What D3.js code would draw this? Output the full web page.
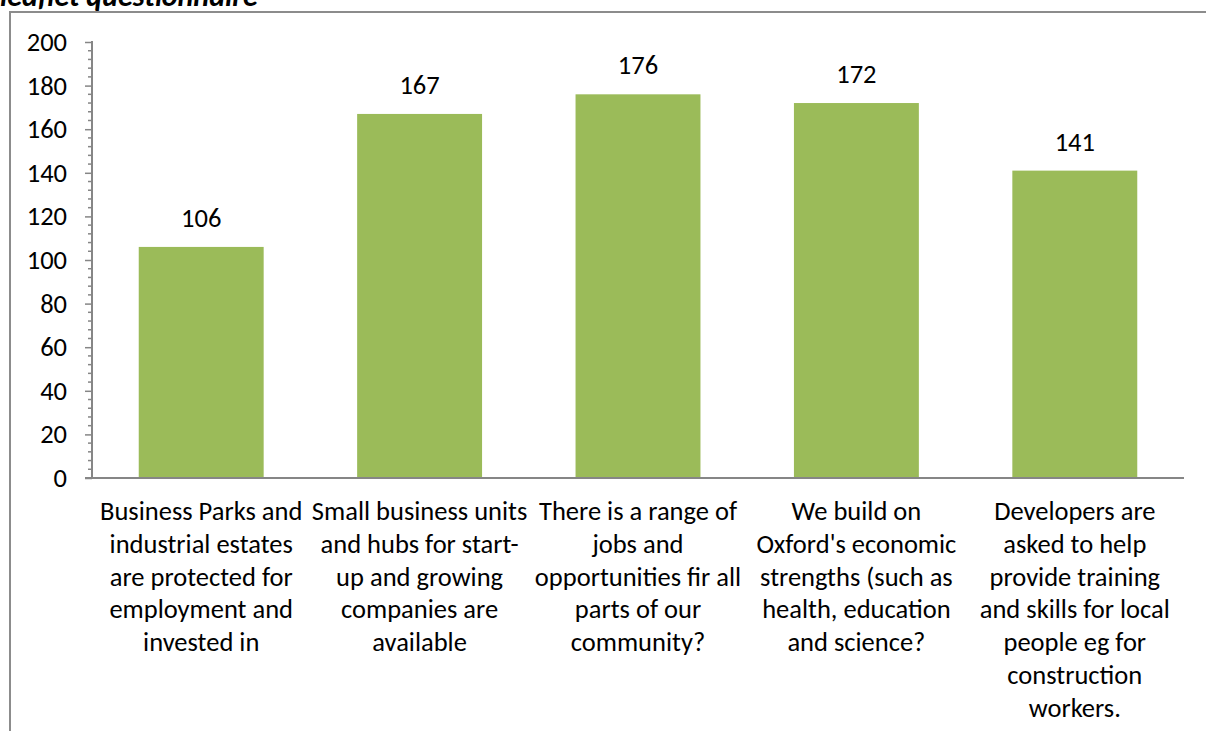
<!DOCTYPE html>
<html><head><meta charset="utf-8">
<script src="https://cdn.jsdelivr.net/npm/d3@7"></script>
<style>body{margin:0;background:#fff}svg{display:block}text{font-family:Carlito,Calibri,"Open Sans",sans-serif}</style>
</head><body>
<svg id="c" width="1206" height="731"></svg>
<script>
const categories = [
  ["Business Parks and","industrial estates","are protected for","employment and","invested in"],
  ["Small business units","and hubs for start-","up and growing","companies are","available"],
  ["There is a range of","jobs and","opportunities fir all","parts of our","community?"],
  ["We build on","Oxford's economic","strengths (such as","health, education","and science?"],
  ["Developers are","asked to help","provide training","and skills for local","people eg for","construction","workers."]
];
const values = [106, 167, 176, 172, 141];
const yTicks = [0,20,40,60,80,100,120,140,160,180,200];
const titleText = "leaflet questionnaire";

const svg = d3.select("#c");
const fs = 26.5;
const x = d3.scaleBand().domain(d3.range(values.length)).range([92,1184]).paddingInner(0.428).paddingOuter(0.214);
const y = d3.scaleLinear().domain([0,200]).range([478,42]);

svg.append("text").attr("x",0).attr("y",6).attr("font-size",30).attr("font-weight","bold").attr("font-style","italic").text(titleText);

// frame
svg.append("path").attr("d","M10,740 V12 H1220").attr("fill","none").attr("stroke","#8c8c8c").attr("stroke-width",2);

svg.selectAll("rect.bar").data(values).join("rect").attr("class","bar")
  .attr("x",(d,i)=>x(i)).attr("width",x.bandwidth())
  .attr("y",d=>y(d)).attr("height",d=>y(0)-y(d)).attr("fill","#9bbb59");

svg.selectAll("text.val").data(values).join("text").attr("class","val")
  .attr("x",(d,i)=>x(i)+x.bandwidth()/2).attr("y",d=>y(d)-20)
  .attr("text-anchor","middle").attr("font-size",fs).attr("fill","#000").text(d=>d);

// y axis
const ax = svg.append("g").attr("transform","translate(92,0)");
ax.call(d3.axisLeft(y).tickValues(yTicks).tickSize(7).tickPadding(18).tickFormat(d3.format("d")));
ax.select(".domain").remove();
ax.selectAll(".tick line").attr("stroke","#868686").attr("stroke-width",1.5);
ax.selectAll(".tick text").attr("font-size",fs).attr("fill","#000").attr("font-family","Carlito,Calibri,'Open Sans',sans-serif");
const minor = d3.range(0,201,4).filter(v=>v%20!==0);
ax.selectAll("line.minor").data(minor).join("line").attr("class","minor")
  .attr("x1",-4).attr("x2",0).attr("y1",d=>y(d)).attr("y2",d=>y(d)).attr("stroke","#868686").attr("stroke-width",1.5);
ax.append("line").attr("x1",0).attr("x2",0).attr("y1",y(200)-1).attr("y2",y(0)).attr("stroke","#868686").attr("stroke-width",2);
svg.append("line").attr("x1",85).attr("x2",1184).attr("y1",y(0)).attr("y2",y(0)).attr("stroke","#868686").attr("stroke-width",2);

// category labels
const g = svg.selectAll("g.cat").data(categories).join("g").attr("class","cat");
g.each(function(lines,i){
  const t = d3.select(this).append("text").attr("text-anchor","middle").attr("font-size",fs).attr("fill","#000");
  lines.forEach((l,j)=>t.append("tspan").attr("x",x(i)+x.bandwidth()/2).attr("y",520+j*32.8).text(l));
});
</script>
</body></html>
